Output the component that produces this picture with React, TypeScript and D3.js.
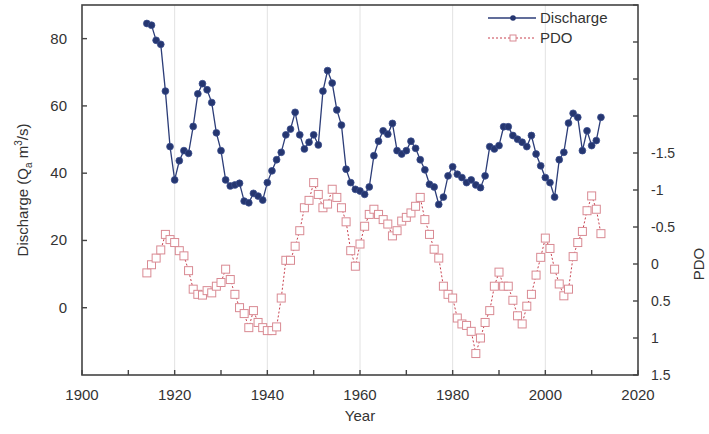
import React, { useEffect, useRef } from 'react';
import * as d3 from 'd3';

const startYear = 1914;

const discharge = [
  84.5, 84, 79.5, 78.3, 64.4, 47.9, 38, 43.7, 46.7, 45.9,
  53.9, 63.6, 66.6, 64.8, 61, 52, 46.7, 38, 36.2, 36.5,
  37, 31.7, 31.2, 34, 33.2, 32, 37.2, 40.7, 44, 46.2,
  51.4, 53.1, 58.1, 51.4, 47.2, 49.2, 51.4, 48.4, 64.4, 70.5,
  66.8, 58.8, 54.3, 41.2, 37.2, 35.2, 34.7, 33.7, 35.9, 45.2,
  49.5, 52.6, 51.6, 54.8, 46.7, 45.7, 46.7, 49.5, 47.4, 44,
  41, 36.7, 35.9, 30.7, 32.9, 39.2, 41.9, 39.7, 38.7, 37.2,
  38, 36.5, 35.7, 39.2, 47.9, 47.2, 48.2, 53.8, 53.8, 51.2,
  50.1, 49.2, 47.9, 51.2, 45.7, 42.2, 38.7, 37.2, 32.9, 44,
  46.2, 54.9, 57.8, 56.6, 46.7, 52.6, 48.2, 49.7, 56.6,
];

const pdo = [
  0.12, 0.01, -0.08, -0.19, -0.4, -0.33, -0.29, -0.18, -0.11, 0.09,
  0.34, 0.41, 0.42, 0.36, 0.39, 0.3, 0.25, 0.07, 0.21, 0.41,
  0.59, 0.67, 0.86, 0.63, 0.79, 0.86, 0.9, 0.9, 0.85, 0.46,
  -0.05, -0.05, -0.24, -0.45, -0.76, -0.86, -1.1, -0.94, -0.76, -0.81,
  -1.01, -0.9, -0.76, -0.57, -0.18, 0.03, -0.27, -0.51, -0.67, -0.74,
  -0.67, -0.6, -0.54, -0.38, -0.45, -0.58, -0.63, -0.69, -0.78, -0.9,
  -0.6, -0.4, -0.2, -0.08, 0.3, 0.41, 0.46, 0.73, 0.81, 0.83,
  0.91, 1.21, 1.0, 0.79, 0.63, 0.3, 0.11, 0.3, 0.3, 0.49,
  0.7, 0.81, 0.57, 0.41, 0.15, -0.09, -0.35, -0.21, 0.07, 0.27,
  0.43, 0.34, -0.1, -0.29, -0.44, -0.72, -0.92, -0.74, -0.41,
];

const yearTicks = [1900, 1920, 1940, 1960, 1980, 2000, 2020];
const yearMinorTicks = [1910, 1930, 1950, 1970, 1990, 2010];
const gridYears = [1920, 1940, 1960, 1980, 2000];
const dischargeTicks = [0, 20, 40, 60, 80];
const pdoTicks = [-3.5, -3, -2.5, -2, -1.5, -1, -0.5, 0, 0.5, 1, 1.5];
const pdoLabels = ['-1.5', '-1', '-0.5', '0', '0.5', '1', '1.5'];

const App: React.FC = () => {
  const ref = useRef<SVGSVGElement | null>(null);

  useEffect(() => {
    if (!ref.current) return;
    const svg = d3.select(ref.current);
    svg.selectAll('*').remove();

    const left = 82, right = 638, top = 5, bottom = 375;
    const font = 'Liberation Sans, Arial, sans-serif';
    const axisColor = '#444';
    const textColor = '#333';

    const x = d3.scaleLinear().domain([1900, 2020]).range([left, right]);
    const yL = d3.scaleLinear().domain([-20, 90]).range([bottom, top]);
    const yR = d3.scaleLinear().domain([1.5, -3.5]).range([bottom, top]);

    const dData = discharge.map((v, i) => ({ year: startYear + i, v }));
    const pData = pdo.map((v, i) => ({ year: startYear + i, v }));

    // grid
    svg.append('g').selectAll('line').data(gridYears).enter().append('line')
      .attr('x1', d => x(d)).attr('x2', d => x(d))
      .attr('y1', top).attr('y2', bottom)
      .attr('stroke', '#e2e2e2').attr('stroke-width', 1);

    // PDO series
    const pLine = d3.line<{ year: number; v: number }>()
      .x(d => x(d.year)).y(d => yR(d.v));
    svg.append('path').datum(pData)
      .attr('d', pLine)
      .attr('fill', 'none')
      .attr('stroke', '#c8404e')
      .attr('stroke-width', 1)
      .attr('stroke-dasharray', '2,2');
    const sq = 8;
    svg.append('g').selectAll('rect').data(pData).enter().append('rect')
      .attr('x', d => x(d.year) - sq / 2)
      .attr('y', d => yR(d.v) - sq / 2)
      .attr('width', sq).attr('height', sq)
      .attr('fill', 'white')
      .attr('stroke', '#d98a93')
      .attr('stroke-width', 1);

    // Discharge series
    const dLine = d3.line<{ year: number; v: number }>()
      .x(d => x(d.year)).y(d => yL(d.v));
    svg.append('path').datum(dData)
      .attr('d', dLine)
      .attr('fill', 'none')
      .attr('stroke', '#2c3d78')
      .attr('stroke-width', 1.3);
    svg.append('g').selectAll('circle').data(dData).enter().append('circle')
      .attr('cx', d => x(d.year))
      .attr('cy', d => yL(d.v))
      .attr('r', 3.4)
      .attr('fill', '#253670')
      .attr('stroke', '#3a4c8c')
      .attr('stroke-width', 0.8);

    // frame
    svg.append('rect')
      .attr('x', left).attr('y', top)
      .attr('width', right - left).attr('height', bottom - top)
      .attr('fill', 'none').attr('stroke', axisColor).attr('stroke-width', 1.6);

    // bottom axis ticks + labels
    const tk = 5;
    svg.append('g').selectAll('line').data([...yearTicks, ...yearMinorTicks]).enter().append('line')
      .attr('x1', d => x(d)).attr('x2', d => x(d))
      .attr('y1', bottom).attr('y2', bottom - tk)
      .attr('stroke', axisColor).attr('stroke-width', 1.4);
    svg.append('g').selectAll('text').data(yearTicks).enter().append('text')
      .attr('x', d => x(d)).attr('y', bottom + 25)
      .attr('text-anchor', 'middle')
      .attr('font-family', font).attr('font-size', 15).attr('fill', textColor)
      .text(d => d);

    // left axis
    svg.append('g').selectAll('line').data(dischargeTicks).enter().append('line')
      .attr('x1', left).attr('x2', left + tk)
      .attr('y1', d => yL(d)).attr('y2', d => yL(d))
      .attr('stroke', axisColor).attr('stroke-width', 1.4);
    svg.append('g').selectAll('text').data(dischargeTicks).enter().append('text')
      .attr('x', left - 15).attr('y', d => yL(d) + 5)
      .attr('text-anchor', 'end')
      .attr('font-family', font).attr('font-size', 15).attr('fill', textColor)
      .text(d => d);

    // right axis
    svg.append('g').selectAll('line').data(pdoTicks).enter().append('line')
      .attr('x1', right).attr('x2', right - tk)
      .attr('y1', d => yR(d)).attr('y2', d => yR(d))
      .attr('stroke', axisColor).attr('stroke-width', 1.4);
    svg.append('g').selectAll('text').data(pdoLabels).enter().append('text')
      .attr('x', right + 13).attr('y', d => yR(+d) + 5)
      .attr('text-anchor', 'start')
      .attr('font-family', font).attr('font-size', 14).attr('fill', textColor)
      .text(d => d);

    // axis titles
    svg.append('text')
      .attr('x', (left + right) / 2).attr('y', 421)
      .attr('text-anchor', 'middle')
      .attr('font-family', font).attr('font-size', 15).attr('fill', textColor)
      .text('Year');

    const lt = svg.append('text')
      .attr('transform', `translate(28,${yL(35)}) rotate(-90)`)
      .attr('text-anchor', 'middle')
      .attr('font-family', font).attr('font-size', 15).attr('fill', textColor);
    lt.append('tspan').text('Discharge (Q');
    lt.append('tspan').attr('font-size', 10).attr('dy', 4).text('a');
    lt.append('tspan').attr('dy', -4).text(' m');
    lt.append('tspan').attr('font-size', 10).attr('dy', -6).text('3');
    lt.append('tspan').attr('dy', 6).text('/s)');

    svg.append('text')
      .attr('transform', `translate(704,${yR(0)}) rotate(-90)`)
      .attr('text-anchor', 'middle')
      .attr('font-family', font).attr('font-size', 15).attr('fill', textColor)
      .text('PDO');

    // legend
    const lg = svg.append('g');
    const lx1 = 488, lx2 = 536, lmx = 513;
    lg.append('line').attr('x1', lx1).attr('x2', lx2).attr('y1', 18).attr('y2', 18)
      .attr('stroke', '#2c3d78').attr('stroke-width', 1.3);
    lg.append('circle').attr('cx', lmx).attr('cy', 18).attr('r', 2.8).attr('fill', '#253670');
    lg.append('text').attr('x', 540).attr('y', 23)
      .attr('font-family', font).attr('font-size', 15).attr('fill', textColor).text('Discharge');
    lg.append('line').attr('x1', lx1).attr('x2', lx2).attr('y1', 38).attr('y2', 38)
      .attr('stroke', '#c8404e').attr('stroke-width', 1).attr('stroke-dasharray', '2,2');
    lg.append('rect').attr('x', lmx - 3).attr('y', 35).attr('width', 6).attr('height', 6)
      .attr('fill', 'white').attr('stroke', '#d98a93');
    lg.append('text').attr('x', 540).attr('y', 43)
      .attr('font-family', font).attr('font-size', 15).attr('fill', textColor).text('PDO');
  }, []);

  return (
    <svg
      ref={ref}
      width={709}
      height={434}
      style={{ position: 'absolute', left: 0, top: 0, background: 'white' }}
    />
  );
};

export default App;
